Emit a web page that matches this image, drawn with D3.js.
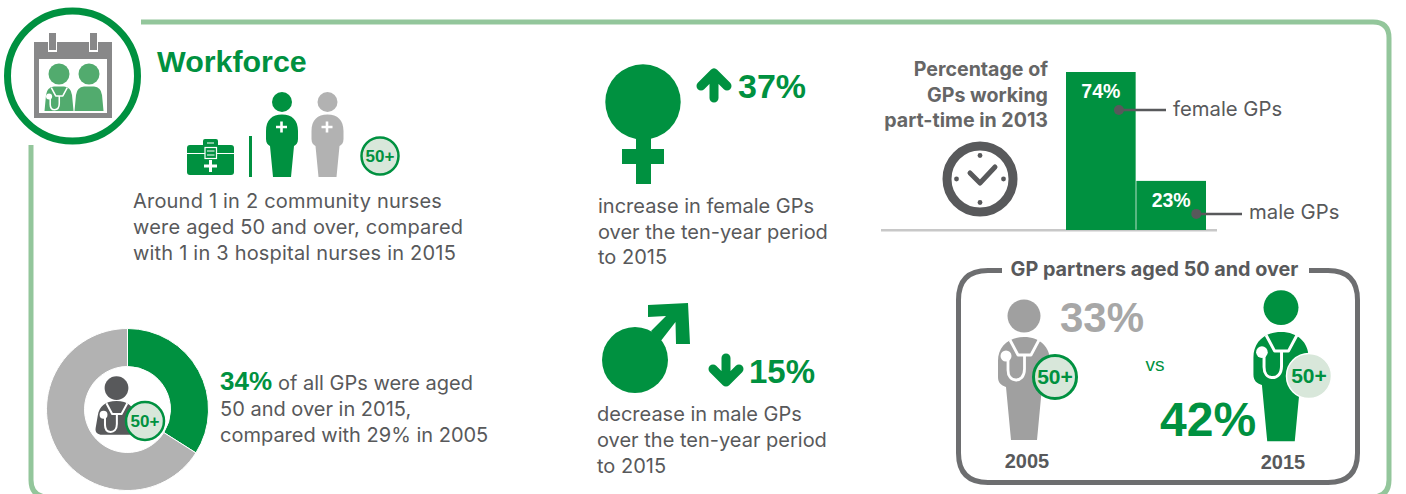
<!DOCTYPE html>
<html>
<head>
<meta charset="utf-8">
<script src="https://cdnjs.cloudflare.com/ajax/libs/d3/7.8.5/d3.min.js"></script>
<style>
  html, body { margin: 0; padding: 0; background: #fff; }
  svg { display: block; }
  text { font-family: "Liberation Sans", Arial, sans-serif; }
  text.body { font-family: Inter, "Liberation Sans", sans-serif; }
</style>
</head>
<body>
<svg width="1406" height="494"></svg>
<script>
// Данные графика
const donutLabels = ["aged 50 and over", "others"];
const donutValues = [34, 66];
const barLabels = ["female GPs", "male GPs"];
const barValues = [74, 23];
const partnerYears = ["2005", "2015"];
const partnerValues = [33, 42];
const nurseLines = ["Around 1 in 2 community nurses", "were aged 50 and over, compared", "with 1 in 3 hospital nurses in 2015"];
const femaleLines = ["increase in female GPs", "over the ten-year period", "to 2015"];
const maleLines = ["decrease in male GPs", "over the ten-year period", "to 2015"];
const gpLines = ["of all GPs were aged", "50 and over in 2015,", "compared with 29% in 2005"];
const partTimeLines = ["Percentage of", "GPs working", "part-time in 2013"];

const green = "#009140";
const paleGreen = "#d8e7da";
const frameGreen = "#93c69b";
const darkGrey = "#58595b";
const midGrey = "#a0a0a0";
const lightGrey = "#b2b2b2";
const bodySize = 20;

const svg = d3.select("svg");

// Рамка блока (низ уходит за край картинки)
svg.append("path")
    .attr("d", "M141,22 H1373 Q1389,22 1389,38 V480 Q1389,497 1372,497 H48 Q31,497 31,480 V145")
    .attr("fill", "none").attr("stroke", frameGreen).attr("stroke-width", 5);

function addText(x, y, str, size, color, weight, anchor) {
    return svg.append("text").attr("x", x).attr("y", y).text(str)
        .attr("font-size", size).attr("fill", color)
        .attr("font-weight", weight || "normal")
        .attr("text-anchor", anchor || "start");
}

function addLines(lines, x, y, size, step, anchor, weight, color) {
    return lines.map((l, i) => addText(x, y + i * step, l, size, color || darkGrey, weight, anchor).attr("class", "body"));
}

// Значок "50+"
function badge(cx, cy, r, size, strokeColor, sw) {
    svg.append("circle").attr("cx", cx).attr("cy", cy).attr("r", r)
        .attr("fill", paleGreen).attr("stroke", strokeColor).attr("stroke-width", sw);
    addText(cx, cy + size * 0.35, "50+", size, green, "bold", "middle");
}

// Фигура врача: начало координат - верх плеч, по центру
function doctor(cx, top, k, color, legs, headR, headY) {
    const g = svg.append("g").attr("transform", `translate(${cx},${top}) scale(${k})`);
    g.append("circle").attr("cx", 0).attr("cy", headY).attr("r", headR).attr("fill", color);
    const body = legs
        ? "M0,0 C16,0 26,10 26,24 V40 C26,46 23,48 18,50 L13,103 H-13 L-18,50 C-23,48 -26,46 -26,40 V24 C-26,10 -16,0 0,0 Z"
        : "M0,0 C16,0 24,8 26,20 L29,38 C30,44 26,47 20,47 H-20 C-26,47 -30,44 -29,38 L-26,20 C-24,8 -16,0 0,0 Z";
    g.append("path").attr("d", body).attr("fill", color);
    stethoscope(g);
}

function stethoscope(g) {
    const w = 2.8;
    g.append("path").attr("d", "M-14,3 L-6,18 H7 L15,3")
        .attr("fill", "none").attr("stroke", "#fff").attr("stroke-width", w).attr("stroke-linejoin", "round");
    g.append("path").attr("d", "M0.5,18 V32 C0.5,40 -4,43 -8,43 C-13,43 -16,39 -16,33 V20")
        .attr("fill", "none").attr("stroke", "#fff").attr("stroke-width", w);
    g.append("circle").attr("cx", -18).attr("cy", 19).attr("r", 5.5).attr("fill", "#fff");
}

// Медсестра
function nurse(cx, color) {
    svg.append("circle").attr("cx", cx).attr("cy", 102).attr("r", 10).attr("fill", color);
    svg.append("path")
        .attr("d", `M${cx - 16},131 C${cx - 16},120 ${cx - 10},114.5 ${cx},114.5 C${cx + 10},114.5 ${cx + 16},120 ${cx + 16},131 V139 C${cx + 16},143 ${cx + 14},145 ${cx + 12},146 L${cx + 9},177 H${cx - 9} L${cx - 12},146 C${cx - 14},145 ${cx - 16},143 ${cx - 16},139 Z`)
        .attr("fill", color);
    svg.append("path").attr("d", `M${cx - 6},127 h11 M${cx - 0.5},121.5 v11`)
        .attr("stroke", "#fff").attr("stroke-width", 2.6);
}

// Логотип-календарь
svg.append("circle").attr("cx", 72.5).attr("cy", 76).attr("r", 65)
    .attr("fill", "#fff").attr("stroke", green).attr("stroke-width", 7);
svg.append("rect").attr("x", 34).attr("y", 42).attr("width", 78).attr("height", 76).attr("fill", "#888889");
svg.append("rect").attr("x", 39).attr("y", 59).attr("width", 68).attr("height", 54).attr("fill", "#fff");
[48, 89].forEach(x => {
    svg.append("rect").attr("x", x).attr("y", 36).attr("width", 9).attr("height", 16).attr("fill", "#fff");
    svg.append("rect").attr("x", x + 1).attr("y", 33).attr("width", 7).attr("height", 17).attr("fill", "#888889");
});
[59, 89].forEach(cx => {
    svg.append("circle").attr("cx", cx).attr("cy", 74).attr("r", 10.5).attr("fill", "#52ab6e");
    svg.append("path")
        .attr("d", `M${cx - 14.5},111 L${cx - 13},95 Q${cx - 12},87 ${cx - 5},86.5 H${cx + 5} Q${cx + 12},87 ${cx + 13},95 L${cx + 14.5},111 Z`)
        .attr("fill", "#52ab6e");
});
const logoSteth = svg.append("g").attr("transform", "translate(59,86) scale(0.55)");
stethoscope(logoSteth);

addText(157, 72, "Workforce", 30.4, green, "bold");

// Блок про медсестёр
const bag = svg.append("g").attr("fill", green);
bag.append("rect").attr("x", 187).attr("y", 145).attr("width", 47).attr("height", 30).attr("rx", 3);
bag.append("rect").attr("x", 203).attr("y", 139).attr("width", 15).attr("height", 8).attr("rx", 2);
svg.append("path").attr("d", "M207,143 H214").attr("stroke", "#fff").attr("stroke-width", 1);
svg.append("path").attr("d", "M187,153.5 H234").attr("stroke", "#fff").attr("stroke-width", 1.2);
svg.append("rect").attr("x", 205).attr("y", 147.5).attr("width", 11.5).attr("height", 11)
    .attr("fill", green).attr("stroke", "#fff").attr("stroke-width", 1.2);
svg.append("path").attr("d", "M207,151 H214.5 M207,155 H214.5").attr("stroke", "#fff").attr("stroke-width", 1);
svg.append("path").attr("d", "M204,166 H217 M210.5,160 V172").attr("stroke", "#fff").attr("stroke-width", 3);
svg.append("rect").attr("x", 249).attr("y", 136).attr("width", 3).attr("height", 41).attr("fill", green);
nurse(282, green);
nurse(327.5, lightGrey);
badge(380, 156, 18.5, 17, green, 2.5);
addLines(nurseLines, 133, 208, bodySize, 26).forEach(t => t.attr("letter-spacing", 0.2));

// Кольцевая диаграмма
const pie = d3.pie().sort(null)(donutValues);
const arc = d3.arc().innerRadius(43).outerRadius(81);
svg.append("g").attr("transform", "translate(127.5,409.5)")
    .selectAll("path").data(pie).join("path")
    .attr("d", arc)
    .attr("fill", (d, i) => i === 0 ? green : lightGrey)
    .attr("stroke", "#fff").attr("stroke-width", 1);
doctor(116.5, 401, 0.72, darkGrey, false, 16.5, -18);
badge(145, 421, 19, 17, green, 2.5);

addText(220, 390, `${donutValues[0]}%`, 26, green, "bold");
addLines([gpLines[0]], 278, 390, bodySize, 26);
addLines(gpLines.slice(1), 220, 416, bodySize, 26);

// Символы женщин и мужчин
const female = svg.append("g").attr("fill", green);
female.append("circle").attr("cx", 643).attr("cy", 102).attr("r", 37.7);
female.append("rect").attr("x", 636).attr("y", 135).attr("width", 15).attr("height", 49);
female.append("rect").attr("x", 622).attr("y", 149).attr("width", 42).attr("height", 15);

function arrow(x, tail, tip, wingY) {
    svg.append("path").attr("d", `M${x},${tail} V${tip} M${x - 13},${wingY} L${x},${tip} L${x + 13},${wingY}`)
        .attr("fill", "none").attr("stroke", green).attr("stroke-width", 9)
        .attr("stroke-linecap", "round").attr("stroke-linejoin", "round");
}
arrow(714, 98, 73, 86);
addText(738, 98, "37%", 34, green, "bold");
addLines(femaleLines, 598, 213, bodySize, 25.5);

const male = svg.append("g").attr("fill", green);
male.append("circle").attr("cx", 635).attr("cy", 360).attr("r", 33);
male.append("path").attr("d", "M648,305 L688,303 L690,344 L676,344 L675.5,322 L660,342 L651,331 L666,316 L648,317 Z");
arrow(726, 358, 382, 369);
addText(749, 383, "15%", 33, green, "bold");
addLines(maleLines, 597, 421, bodySize, 26);

// Столбики: неполный рабочий день
const barX = d3.scaleBand().domain(barLabels).range([1066, 1206]).paddingInner(0.01);
const barY = d3.scaleLinear().domain([0, 74]).range([230, 72]);
addLines(partTimeLines, 1048, 76, 19.6, 25.7, "end", "bold", "#666666");

svg.append("rect").attr("x", 881).attr("y", 229).attr("width", 336).attr("height", 2.5).attr("fill", "#c8c8c8");
svg.append("g").selectAll("rect").data(barValues).join("rect")
    .attr("x", (d, i) => barX(barLabels[i]))
    .attr("y", d => barY(d))
    .attr("width", barX.bandwidth())
    .attr("height", d => barY(0) - barY(d))
    .attr("fill", green);
barValues.forEach((v, i) => {
    const x = barX(barLabels[i]);
    const w = barX.bandwidth();
    addText(x + w / 2, barY(v) + 26, `${v}%`, 19.5, "#fff", "bold", "middle");
    const dotX = x + w * 0.76 + (i === 1 ? 7 : 0);
    const dotY = barY(v) + (i === 0 ? 38 : 33);
    const endX = i === 0 ? 1166 : 1242;
    svg.append("line").attr("x1", dotX).attr("x2", endX).attr("y1", dotY).attr("y2", dotY)
        .attr("stroke", darkGrey).attr("stroke-width", 2.5);
    svg.append("circle").attr("cx", dotX).attr("cy", dotY).attr("r", 5).attr("fill", darkGrey);
    addText(endX + 7, dotY + 5.5, barLabels[i], 20.3, darkGrey).attr("class", "body");
});

// Часы
svg.append("circle").attr("cx", 980).attr("cy", 179).attr("r", 33)
    .attr("fill", "none").attr("stroke", darkGrey).attr("stroke-width", 9);
[[0, -23.5], [0, 23.5], [-23.5, 0], [23.5, 0]].forEach(p => {
    svg.append("circle").attr("cx", 980 + p[0]).attr("cy", 179 + p[1]).attr("r", 2.4).attr("fill", darkGrey);
});
svg.append("path").attr("d", "M970,173 L980,183 L995,167").attr("fill", "none")
    .attr("stroke", darkGrey).attr("stroke-width", 5).attr("stroke-linecap", "round").attr("stroke-linejoin", "round");

// Партнёры старше 50 лет
svg.append("path")
    .attr("d", "M1002,270.5 H988 Q958.5,270.5 958.5,300 V453 Q958.5,482.5 988,482.5 H1328 Q1357.5,482.5 1357.5,453 V300 Q1357.5,270.5 1328,270.5 H1309")
    .attr("fill", "none").attr("stroke", "#6d6e70").attr("stroke-width", 5);
addLines(["GP partners aged 50 and over"], 1154.5, 276, 19.8, 0, "middle", "bold");

doctor(1024, 337, 1, midGrey, true, 16.5, -21);
badge(1055, 377, 21.5, 21, green, 3);
addText(1060, 332, `${partnerValues[0]}%`, 42, "#a7a7a7", "bold");
addText(1155, 371, "vs", 19, green, "normal", "middle");
doctor(1281, 332, 1.06, green, true, 16.5, -23);
badge(1309, 376, 22.5, 21, "#fff", 1.5);
addText(1160, 436, `${partnerValues[1]}%`, 48, green, "bold");
addText(1027, 468, partnerYears[0], 20, darkGrey, "bold", "middle");
addText(1283, 469, partnerYears[1], 20, darkGrey, "bold", "middle");
</script>
</body>
</html>
